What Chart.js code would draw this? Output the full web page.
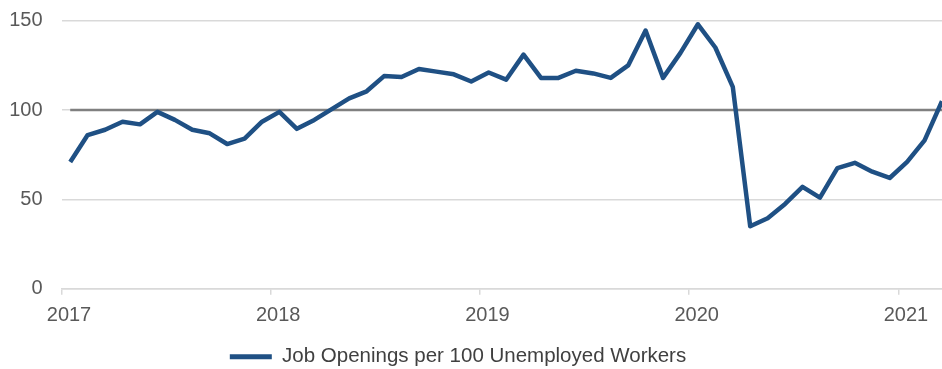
<!DOCTYPE html>
<html>
<head>
<meta charset="utf-8">
<script src="https://cdn.jsdelivr.net/npm/chart.js@4"></script>
<style>
  html, body { margin: 0; padding: 0; background: #ffffff; }
  canvas { display: block; }
</style>
</head>
<body>
<canvas id="grafik" width="942" height="369"></canvas>
<script>
// monthly values, Jan 2017 .. Mar 2021
const startYear = 2017;
const openings = [
  71, 86, 89, 93.5, 92, 99, 94.5, 89, 87, 81, 84, 93.5,
  99, 89.5, 94.5, 100.5, 106.5, 110.5, 119, 118.5, 123, 121.5, 120, 116,
  121, 117, 131, 118, 118, 122, 120.5, 118, 125, 144.5, 118, 132,
  148, 135, 113, 35, 39.5, 47.5, 57, 51, 67.5, 70.5, 65.5, 62,
  71, 83, 105
];
const yearLabels = ["2017", "2018", "2019", "2020", "2021"];
const yTicks = [0, 50, 100, 150];
const referenceLevel = 100;
const seriesName = "Job Openings per 100 Unemployed Workers";

const mavi = "#1f5084";
const acikGri = "#d9d9d9";
const yaziRenk = "#595959";

// month index -> point in the middle of the month
const noktalar = openings.map((v, i) => ({ x: i + 0.5, y: v }));
const sonX = openings.length - 0.5;
const referansCizgi = [
  { x: 0.5, y: referenceLevel },
  { x: sonX, y: referenceLevel }
];

const legendKaydir = {
  id: "legendKaydir",
  afterLayout(chart) {
    const lg = chart.legend;
    if (!lg) return;
    lg.left -= 13;
    lg.right -= 13;
    lg.top += 8;
    lg.bottom += 8;
  }
};

new Chart(document.getElementById("grafik"), {
  type: "line",
  data: {
    datasets: [
      {
        label: seriesName,
        data: noktalar,
        borderColor: mavi,
        backgroundColor: mavi,
        borderWidth: 4.5,
        pointRadius: 0,
        tension: 0,
        borderJoinStyle: "round"
      },
      {
        label: "ref",
        data: referansCizgi,
        borderColor: "#808080",
        borderWidth: 2.5,
        pointRadius: 0,
        tension: 0
      }
    ]
  },
  options: {
    responsive: false,
    animation: false,
    layout: { padding: { top: 20.7, right: 0, bottom: 0, left: 0 } },
    plugins: {
      tooltip: { enabled: false },
      legend: {
        position: "bottom",
        labels: {
          font: { family: "Liberation Sans", size: 20.5 },
          color: "#404040",
          boxWidth: 42,
          boxHeight: 5,
          padding: 11.7,
          filter: item => item.datasetIndex === 0,
          generateLabels(chart) {
            const ds = chart.data.datasets[0];
            return [{
              text: ds.label,
              fillStyle: ds.borderColor,
              strokeStyle: ds.borderColor,
              lineWidth: 0,
              fontColor: "#404040",
              datasetIndex: 0
            }];
          }
        }
      }
    },
    scales: {
      x: {
        type: "linear",
        min: 0,
        max: sonX,
        afterBuildTicks(scale) {
          scale.ticks = yearLabels.map((_, i) => ({ value: i * 12 }));
        },
        afterFit(scale) {
          scale.height = 38;
        },
        ticks: {
          autoSkip: false,
          maxRotation: 0,
          padding: 9,
          labelOffset: 7.5,
          color: yaziRenk,
          font: { family: "Liberation Sans", size: 20 },
          callback: v => yearLabels[Math.round(v / 12)] || ""
        },
        grid: {
          drawOnChartArea: false,
          drawTicks: true,
          tickLength: 6,
          tickColor: acikGri,
          lineWidth: 1.5
        },
        border: { display: true, color: acikGri, width: 1.5 }
      },
      y: {
        min: 0,
        max: 150,
        afterBuildTicks(scale) {
          scale.ticks = yTicks.map(v => ({ value: v }));
        },
        afterFit(scale) {
          scale.width = 61.5;
        },
        ticks: {
          padding: 0,
          color: yaziRenk,
          font: { family: "Liberation Sans", size: 20 }
        },
        grid: {
          color: acikGri,
          lineWidth: 1.5,
          drawTicks: true,
          tickLength: 19,
          tickColor: "rgba(0,0,0,0)"
        },
        border: { display: false }
      }
    }
  },
  plugins: [legendKaydir]
});
</script>
</body>
</html>
